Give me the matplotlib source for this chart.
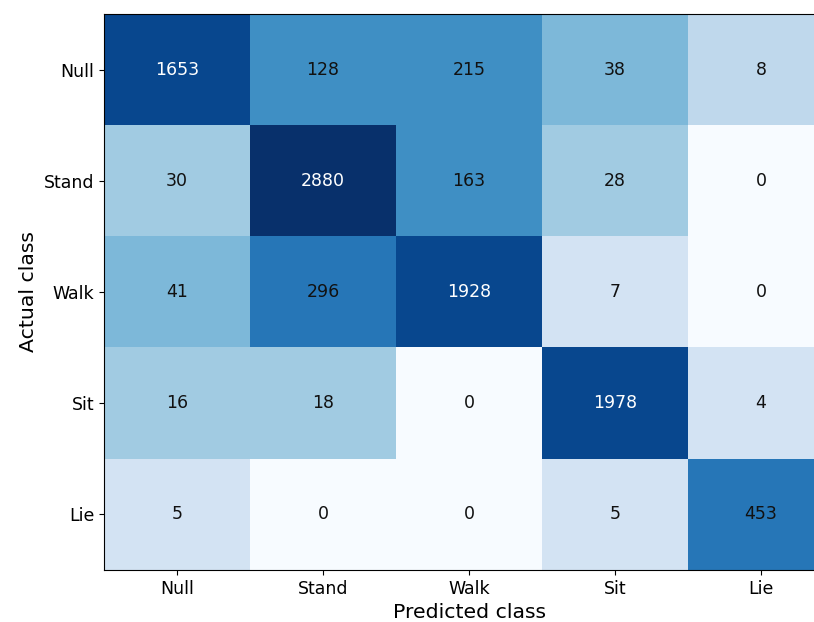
import numpy as np
import matplotlib
matplotlib.use("Agg")
import matplotlib.pyplot as plt

classes = ["Null", "Stand", "Walk", "Sit", "Lie"]
counts = np.array([
    [1653, 128, 215, 38, 8],
    [30, 2880, 163, 28, 0],
    [41, 296, 1928, 7, 0],
    [16, 18, 0, 1978, 4],
    [5, 0, 0, 5, 453],
])

fig = plt.figure(figsize=(8.14, 6.22), dpi=100)
W, H = 814, 622
left, right, top, bottom = 104, 834, 14, 570
ax = fig.add_axes([left / W, 1 - bottom / H, (right - left) / W, (bottom - top) / H])

# colour by power-of-two bins of the counts
levels = np.floor(np.log2(np.maximum(counts, 1)))
ax.imshow(levels, cmap="Blues", vmin=0, vmax=levels.max(), aspect="auto",
          interpolation="nearest")
thresh = counts.max() / 2
for i in range(counts.shape[0]):
    for j in range(counts.shape[1]):
        ax.text(j, i, str(counts[i, j]), ha="center", va="center", fontsize=12.5,
                color="white" if counts[i, j] > thresh else "#111111")

ax.set_xticks(range(len(classes)))
ax.set_xticklabels(classes, fontsize=12.5)
ax.set_yticks(range(len(classes)))
ax.set_yticklabels(classes, fontsize=12.5)
ax.set_xlabel("Predicted class", fontsize=14.7)
ax.set_ylabel("Actual class", fontsize=14.7)

fig.savefig("out.png", dpi=100)
